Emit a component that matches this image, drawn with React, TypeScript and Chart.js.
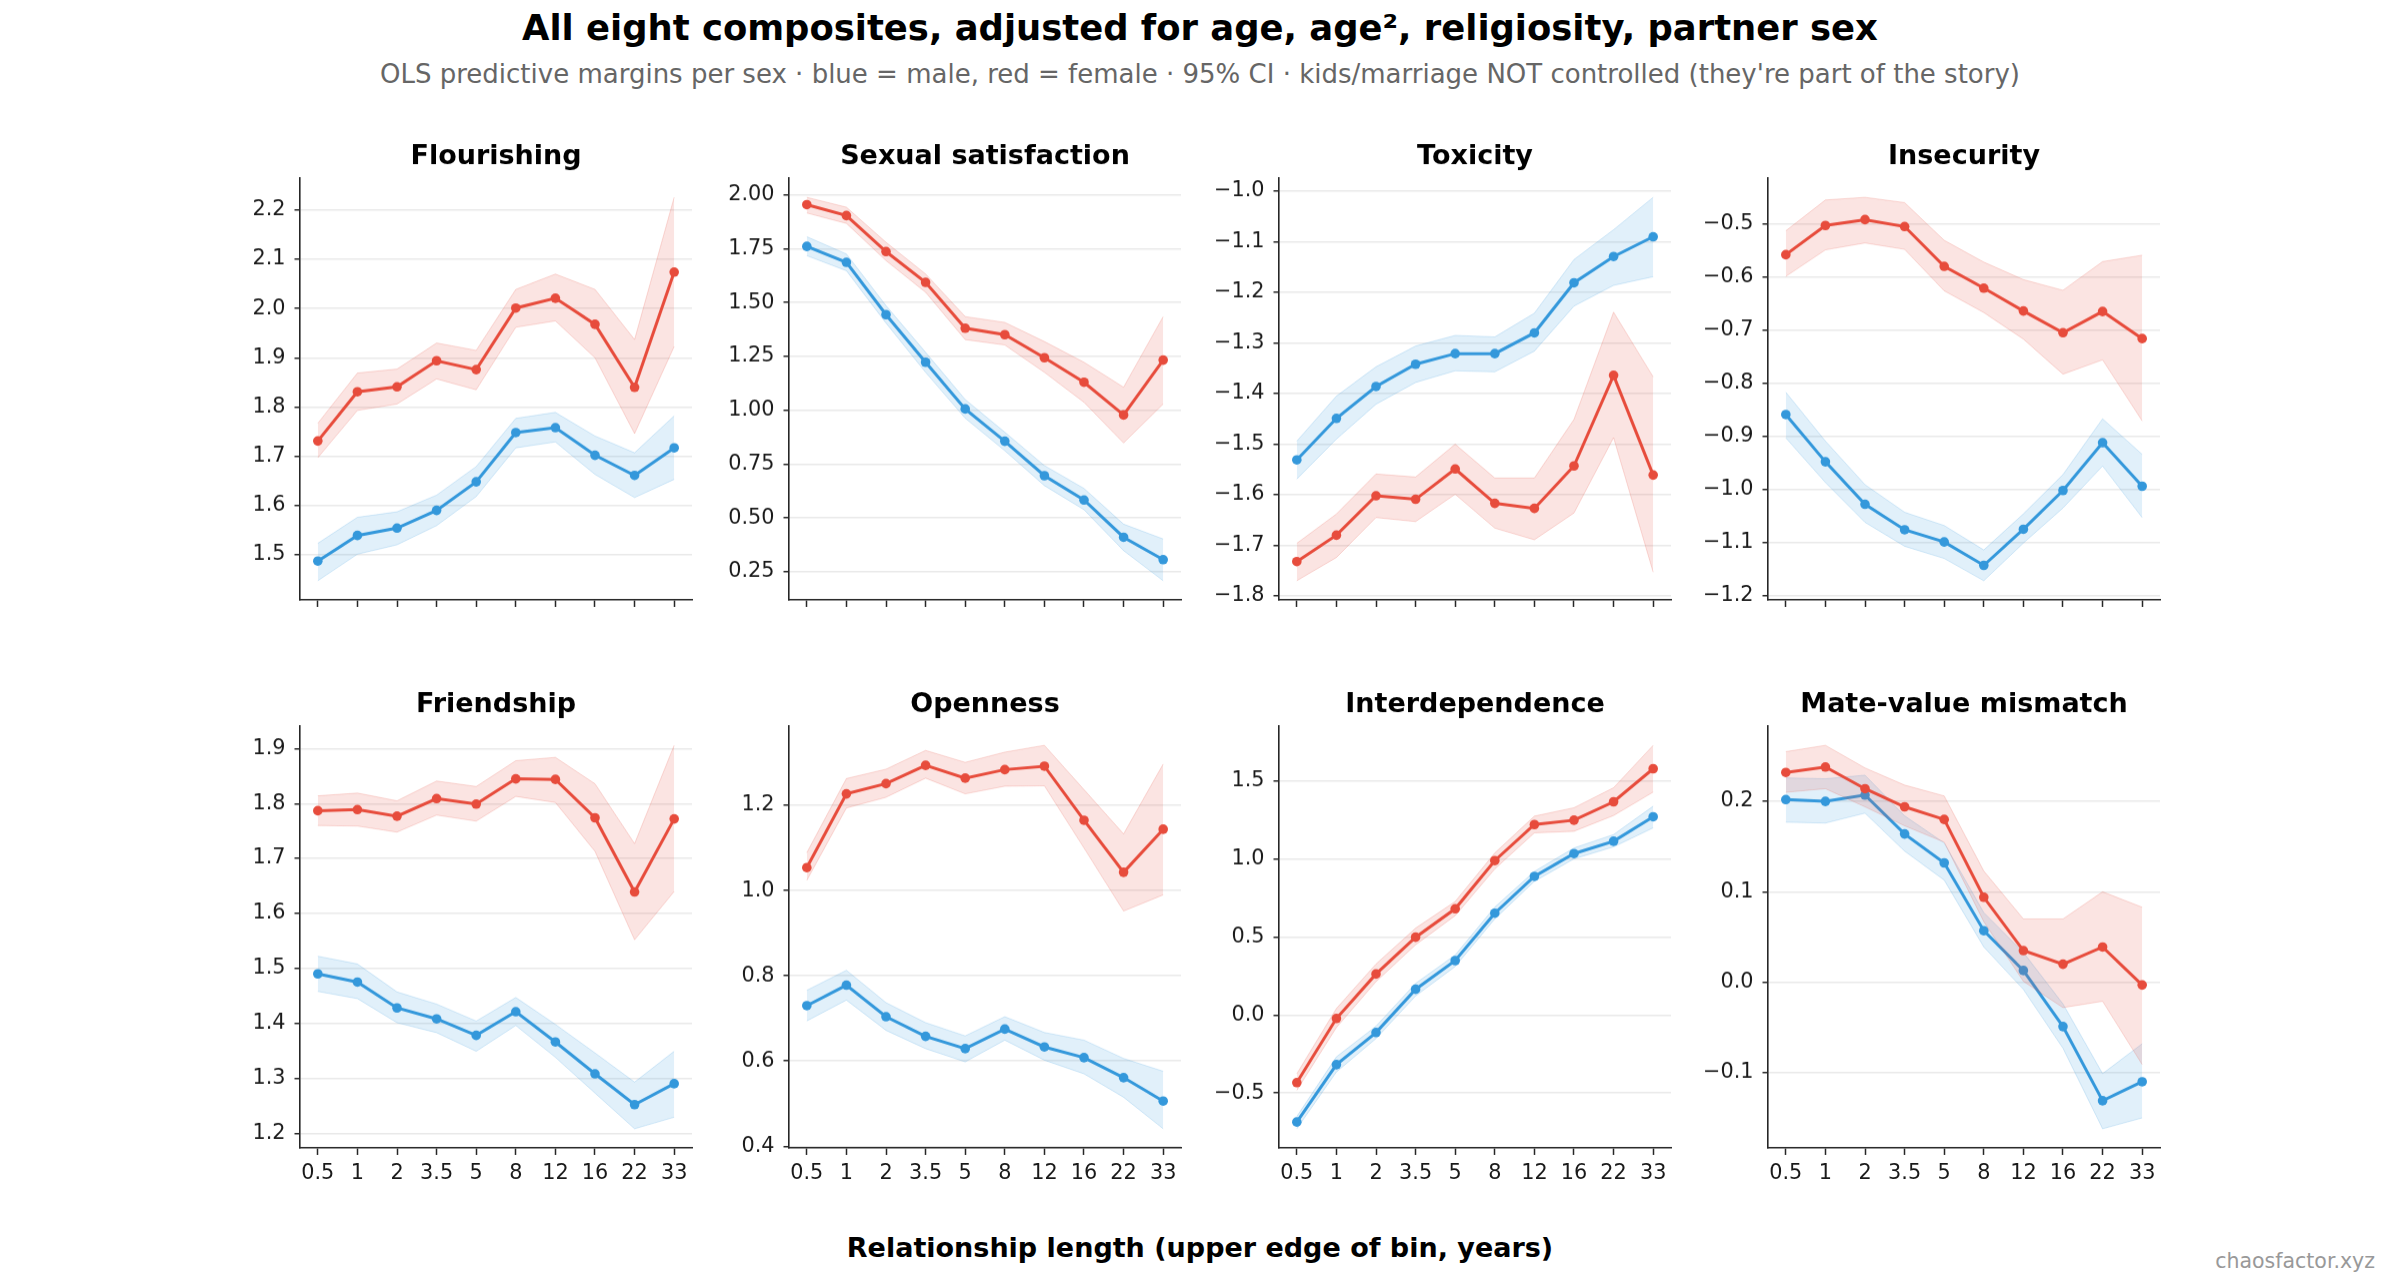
import React, { useEffect, useRef } from 'react';
import { Chart, registerables } from 'chart.js';

Chart.register(...registerables);

// ---------- data ----------
const xLabels = ['0.5', '1', '2', '3.5', '5', '8', '12', '16', '22', '33'];

// Flourishing
const flourF = [1.731, 1.831, 1.841, 1.894, 1.876, 2.001, 2.021, 1.968, 1.840, 2.074];
const flourFHi = [1.767, 1.869, 1.877, 1.930, 1.915, 2.039, 2.070, 2.039, 1.937, 2.226];
const flourFLo = [1.697, 1.793, 1.806, 1.857, 1.835, 1.962, 1.975, 1.900, 1.746, 1.923];
const flourM = [1.487, 1.539, 1.554, 1.590, 1.648, 1.748, 1.758, 1.702, 1.661, 1.717];
const flourMHi = [1.523, 1.576, 1.587, 1.621, 1.679, 1.777, 1.789, 1.741, 1.707, 1.782];
const flourMLo = [1.447, 1.501, 1.520, 1.559, 1.618, 1.717, 1.729, 1.663, 1.616, 1.653];
const flourTicks = [1.5, 1.6, 1.7, 1.8, 1.9, 2.0, 2.1, 2.2];

// Sexual satisfaction
const sexF = [1.955, 1.904, 1.737, 1.594, 1.381, 1.351, 1.244, 1.130, 0.978, 1.233];
const sexFHi = [1.989, 1.943, 1.780, 1.633, 1.435, 1.408, 1.319, 1.223, 1.107, 1.435];
const sexFLo = [1.916, 1.868, 1.695, 1.548, 1.328, 1.303, 1.176, 1.037, 0.848, 1.029];
const sexM = [1.761, 1.687, 1.444, 1.223, 1.006, 0.856, 0.696, 0.583, 0.410, 0.306];
const sexMHi = [1.806, 1.726, 1.486, 1.269, 1.050, 0.898, 0.743, 0.637, 0.471, 0.402];
const sexMLo = [1.718, 1.648, 1.405, 1.176, 0.963, 0.812, 0.650, 0.538, 0.348, 0.208];
const sexTicks = [0.25, 0.5, 0.75, 1.0, 1.25, 1.5, 1.75, 2.0];

// Toxicity
const toxF = [-1.732, -1.680, -1.602, -1.609, -1.549, -1.617, -1.627, -1.543, -1.364, -1.561];
const toxFHi = [-1.696, -1.638, -1.559, -1.565, -1.500, -1.567, -1.567, -1.451, -1.239, -1.367];
const toxFLo = [-1.770, -1.724, -1.645, -1.653, -1.599, -1.666, -1.689, -1.636, -1.487, -1.753];
const toxM = [-1.531, -1.449, -1.386, -1.342, -1.321, -1.321, -1.280, -1.181, -1.129, -1.090];
const toxMHi = [-1.494, -1.405, -1.347, -1.306, -1.285, -1.288, -1.241, -1.135, -1.076, -1.012];
const toxMLo = [-1.569, -1.490, -1.421, -1.378, -1.355, -1.357, -1.316, -1.227, -1.186, -1.169];
const toxTicks = [-1.8, -1.7, -1.6, -1.5, -1.4, -1.3, -1.2, -1.1, -1.0];

// Insecurity
const insF = [-0.558, -0.503, -0.492, -0.505, -0.580, -0.621, -0.664, -0.705, -0.665, -0.716];
const insFHi = [-0.513, -0.455, -0.450, -0.460, -0.531, -0.572, -0.605, -0.625, -0.571, -0.559];
const insFLo = [-0.599, -0.549, -0.536, -0.548, -0.626, -0.667, -0.717, -0.783, -0.756, -0.871];
const insM = [-0.859, -0.948, -1.028, -1.076, -1.099, -1.143, -1.075, -1.002, -0.912, -0.994];
const insMHi = [-0.817, -0.909, -0.991, -1.043, -1.068, -1.114, -1.046, -0.972, -0.867, -0.934];
const insMLo = [-0.903, -0.987, -1.062, -1.107, -1.130, -1.172, -1.101, -1.035, -0.956, -1.053];
const insTicks = [-1.2, -1.1, -1.0, -0.9, -0.8, -0.7, -0.6, -0.5];

// Friendship
const friF = [1.787, 1.789, 1.777, 1.809, 1.799, 1.845, 1.844, 1.774, 1.639, 1.772];
const friFHi = [1.814, 1.819, 1.805, 1.841, 1.831, 1.878, 1.884, 1.836, 1.727, 1.906];
const friFLo = [1.760, 1.759, 1.748, 1.779, 1.768, 1.813, 1.802, 1.713, 1.552, 1.640];
const friM = [1.490, 1.475, 1.428, 1.408, 1.378, 1.421, 1.366, 1.308, 1.252, 1.290];
const friMHi = [1.522, 1.508, 1.457, 1.435, 1.404, 1.447, 1.398, 1.346, 1.293, 1.349];
const friMLo = [1.458, 1.445, 1.401, 1.383, 1.349, 1.396, 1.338, 1.273, 1.208, 1.229];
const friTicks = [1.2, 1.3, 1.4, 1.5, 1.6, 1.7, 1.8, 1.9];

// Openness
const opeF = [1.054, 1.227, 1.251, 1.294, 1.264, 1.284, 1.292, 1.165, 1.043, 1.144];
const opeFHi = [1.089, 1.263, 1.285, 1.329, 1.301, 1.325, 1.341, 1.237, 1.133, 1.297];
const opeFLo = [1.024, 1.194, 1.219, 1.264, 1.227, 1.245, 1.246, 1.100, 0.952, 0.990];
const opeM = [0.730, 0.778, 0.704, 0.658, 0.629, 0.675, 0.633, 0.608, 0.561, 0.506];
const opeMHi = [0.766, 0.813, 0.737, 0.690, 0.659, 0.704, 0.667, 0.649, 0.606, 0.576];
const opeMLo = [0.694, 0.743, 0.672, 0.629, 0.598, 0.649, 0.602, 0.570, 0.515, 0.441];
const opeTicks = [0.4, 0.6, 0.8, 1.0, 1.2];

// Interdependence
const intF = [-0.433, -0.022, 0.263, 0.499, 0.681, 0.990, 1.221, 1.249, 1.367, 1.579];
const intFHi = [-0.376, 0.042, 0.327, 0.557, 0.728, 1.039, 1.275, 1.329, 1.457, 1.729];
const intFLo = [-0.483, -0.080, 0.214, 0.450, 0.637, 0.936, 1.168, 1.178, 1.279, 1.429];
const intM = [-0.686, -0.318, -0.112, 0.165, 0.349, 0.653, 0.889, 1.035, 1.114, 1.271];
const intMHi = [-0.650, -0.268, -0.071, 0.203, 0.385, 0.692, 0.921, 1.071, 1.157, 1.339];
const intMLo = [-0.729, -0.365, -0.151, 0.122, 0.311, 0.616, 0.857, 1.001, 1.078, 1.200];
const intTicks = [-0.5, 0.0, 0.5, 1.0, 1.5];

// Mate-value mismatch
const mvF = [0.232, 0.238, 0.214, 0.194, 0.180, 0.094, 0.035, 0.020, 0.039, -0.003];
const mvFHi = [0.255, 0.262, 0.237, 0.218, 0.206, 0.123, 0.070, 0.070, 0.100, 0.083];
const mvFLo = [0.210, 0.214, 0.194, 0.173, 0.155, 0.067, 0.001, -0.028, -0.021, -0.091];
const mvM = [0.202, 0.200, 0.207, 0.164, 0.132, 0.057, 0.013, -0.049, -0.131, -0.110];
const mvMHi = [0.226, 0.225, 0.229, 0.184, 0.154, 0.077, 0.033, -0.024, -0.101, -0.068];
const mvMLo = [0.177, 0.176, 0.187, 0.145, 0.113, 0.039, -0.008, -0.073, -0.162, -0.150];
const mvTicks = [-0.1, 0.0, 0.1, 0.2];

type PanelDef = {
  title: string;
  f: number[]; fHi: number[]; fLo: number[];
  m: number[]; mHi: number[]; mLo: number[];
  ticks: number[]; dec: number;
};

const panels: PanelDef[] = [
  { title: 'Flourishing', f: flourF, fHi: flourFHi, fLo: flourFLo, m: flourM, mHi: flourMHi, mLo: flourMLo, ticks: flourTicks, dec: 1 },
  { title: 'Sexual satisfaction', f: sexF, fHi: sexFHi, fLo: sexFLo, m: sexM, mHi: sexMHi, mLo: sexMLo, ticks: sexTicks, dec: 2 },
  { title: 'Toxicity', f: toxF, fHi: toxFHi, fLo: toxFLo, m: toxM, mHi: toxMHi, mLo: toxMLo, ticks: toxTicks, dec: 1 },
  { title: 'Insecurity', f: insF, fHi: insFHi, fLo: insFLo, m: insM, mHi: insMHi, mLo: insMLo, ticks: insTicks, dec: 1 },
  { title: 'Friendship', f: friF, fHi: friFHi, fLo: friFLo, m: friM, mHi: friMHi, mLo: friMLo, ticks: friTicks, dec: 1 },
  { title: 'Openness', f: opeF, fHi: opeFHi, fLo: opeFLo, m: opeM, mHi: opeMHi, mLo: opeMLo, ticks: opeTicks, dec: 1 },
  { title: 'Interdependence', f: intF, fHi: intFHi, fLo: intFLo, m: intM, mHi: intMHi, mLo: intMLo, ticks: intTicks, dec: 1 },
  { title: 'Mate-value mismatch', f: mvF, fHi: mvFHi, fLo: mvFLo, m: mvM, mHi: mvMHi, mLo: mvMLo, ticks: mvTicks, dec: 1 },
];

// ---------- style / layout ----------
const FONT = "'DejaVu Sans', sans-serif";
const RED = '#e74c3c';
const RED_FILL = 'rgba(231,76,60,0.15)';
const RED_EDGE = 'rgba(231,76,60,0.2)';
const BLUE = '#3498db';
const BLUE_FILL = 'rgba(52,152,219,0.15)';
const BLUE_EDGE = 'rgba(52,152,219,0.2)';
const AX = '#262626';
const TXT = '#1a1a1a';

const PLOT_LEFTS = [300, 789, 1279, 1768];
const PLOT_TOPS = [178.3, 726];
const PLOT_W = 392;
const PLOT_H = 421.7;
const YW = 100;
const RPAD = 30;
const TH = 60;
const XH = 45;
const TITLE_GAP = 21.3;

function Panel({ p, left, top, showX }: { p: PanelDef; left: number; top: number; showX: boolean }) {
  const ref = useRef<HTMLCanvasElement>(null);
  const W = YW + PLOT_W + RPAD;
  const H = TH + PLOT_H + XH;

  useEffect(() => {
    if (!ref.current) return;
    const all = [...p.f, ...p.fHi, ...p.fLo, ...p.m, ...p.mHi, ...p.mLo];
    const lo = Math.min(...all);
    const hi = Math.max(...all);
    const pad = (hi - lo) * 0.05;
    const pts = (arr: number[]) => arr.map((v, i) => ({ x: i, y: v }));
    const titleSize = 27;
    const lh = titleSize * 1.2;
    const padTop = TH - TITLE_GAP - lh / 2;
    const padBottom = TH - padTop - lh;
    const tickFont = { family: FONT, size: 20.8 };

    const line = (data: number[], color: string) => ({
      data: pts(data), borderColor: color, backgroundColor: color, borderWidth: 3,
      pointRadius: 4.8, pointBorderWidth: 0, pointBackgroundColor: color, fill: false, tension: 0,
    });
    const band = (data: number[], edge: string, fillColor: string, fill: any) => ({
      data: pts(data), borderColor: edge, backgroundColor: fillColor, borderWidth: 1,
      pointRadius: 0, fill, tension: 0,
    });

    const chart = new Chart(ref.current, {
      type: 'line',
      data: {
        datasets: [
          line(p.f, RED),
          band(p.fHi, RED_EDGE, RED_FILL, '+1'),
          band(p.fLo, RED_EDGE, RED_FILL, false),
          line(p.m, BLUE),
          band(p.mHi, BLUE_EDGE, BLUE_FILL, '+1'),
          band(p.mLo, BLUE_EDGE, BLUE_FILL, false),
        ] as any,
      },
      options: {
        animation: false,
        responsive: false,
        events: [],
        layout: { padding: { left: 0, right: RPAD, top: 0, bottom: 0 } },
        plugins: {
          legend: { display: false },
          tooltip: { enabled: false },
          title: {
            display: true,
            fullSize: false,
            text: p.title,
            color: '#000',
            font: { family: FONT, size: titleSize, weight: 'bold', lineHeight: 1.2 },
            padding: { top: padTop, bottom: padBottom },
          },
        },
        scales: {
          x: {
            type: 'linear',
            min: -0.45,
            max: 9.45,
            afterBuildTicks: (s: any) => { s.ticks = xLabels.map((_, i) => ({ value: i })); },
            afterFit: (s: any) => { s.height = XH; },
            grid: { display: true, drawOnChartArea: false, drawTicks: true, tickLength: 7, tickColor: AX, tickWidth: 1.5 },
            border: { display: true, color: AX, width: 1.6 },
            ticks: {
              autoSkip: false, maxRotation: 0, minRotation: 0, padding: 6, font: tickFont, color: TXT,
              callback: (_v: any, i: number) => (showX ? xLabels[i] : ''),
            },
          },
          y: {
            type: 'linear',
            min: lo - pad,
            max: hi + pad,
            afterBuildTicks: (s: any) => { s.ticks = p.ticks.map((v) => ({ value: v })); },
            afterFit: (s: any) => { s.width = YW; },
            grid: { color: '#e9e9e9', lineWidth: 1.5, drawTicks: true, tickLength: 5.5, tickColor: AX, tickWidth: 1.5 },
            border: { display: true, color: AX, width: 1.6 },
            ticks: {
              padding: 9, font: tickFont, color: TXT, autoSkip: false,
              callback: (v: any) => Number(v).toFixed(p.dec).replace('-', '\u2212'),
            },
          },
        },
      } as any,
    });
    return () => chart.destroy();
  }, []);

  return (
    <canvas
      ref={ref}
      width={W}
      height={H}
      style={{ position: 'absolute', left: left - YW, top: top - TH, width: W, height: H }}
    />
  );
}

export default function App() {
  return (
    <div style={{ position: 'absolute', left: 0, top: 0, width: 2400, height: 1275, background: '#fff', overflow: 'hidden', fontFamily: FONT }}>
      <div style={{ position: 'absolute', left: 0, width: 2400, top: 27.5 - 17.5, height: 35, lineHeight: '35px', fontSize: 35.4, fontWeight: 'bold', textAlign: 'center', color: '#000', whiteSpace: 'nowrap' }}>
        All eight composites, adjusted for age, age², religiosity, partner sex
      </div>
      <div style={{ position: 'absolute', left: 0, width: 2400, top: 73.5 - 13, height: 26, lineHeight: '26px', fontSize: 26, textAlign: 'center', color: '#666', whiteSpace: 'nowrap' }}>
        OLS predictive margins per sex · blue = male, red = female · 95% CI · kids/marriage NOT controlled (they're part of the story)
      </div>
      {panels.map((p, i) => (
        <Panel key={i} p={p} left={PLOT_LEFTS[i % 4]} top={PLOT_TOPS[Math.floor(i / 4)]} showX={i >= 4} />
      ))}
      <div style={{ position: 'absolute', left: 0, width: 2400, top: 1247.5 - 13.5, height: 27, lineHeight: '27px', fontSize: 27, fontWeight: 'bold', textAlign: 'center', color: '#000', whiteSpace: 'nowrap' }}>
        Relationship length (upper edge of bin, years)
      </div>
      <div style={{ position: 'absolute', right: 25, top: 1261 - 10, height: 20, lineHeight: '20px', fontSize: 20.5, textAlign: 'right', color: '#999', whiteSpace: 'nowrap' }}>
        chaosfactor.xyz
      </div>
    </div>
  );
}
